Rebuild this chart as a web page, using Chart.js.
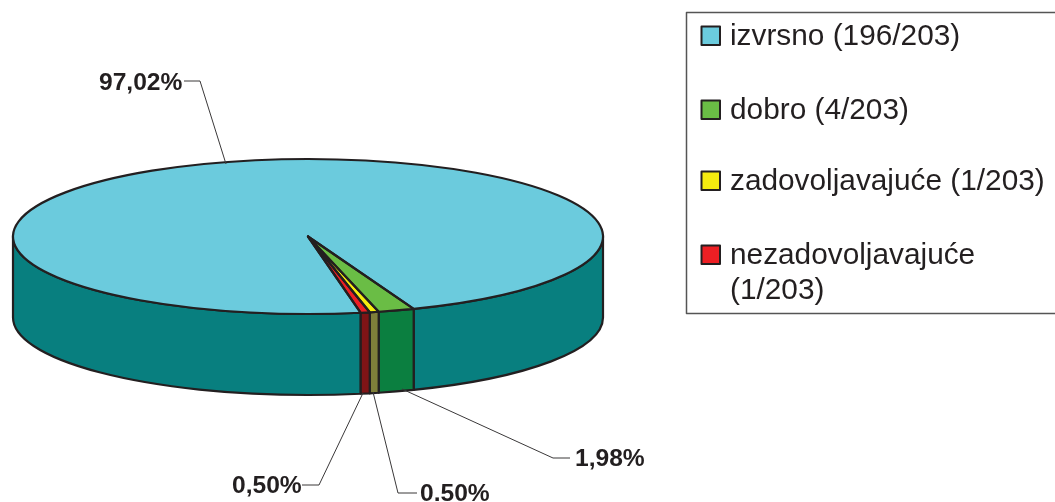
<!DOCTYPE html>
<html>
<head>
<meta charset="utf-8">
<style>html,body{margin:0;padding:0;background:#fff;overflow:hidden}canvas{display:block}</style>
<script src="https://cdn.jsdelivr.net/npm/chart.js@4"></script>
</head>
<body>
<canvas id="c" width="1055" height="502"></canvas>
<script>
const categories = ['izvrsno', 'dobro', 'zadovoljavajuće', 'nezadovoljavajuće'];
const counts = [196, 4, 1, 1];
const legendLines = [['izvrsno (196/203)'], ['dobro (4/203)'], ['zadovoljavajuće (1/203)'], ['nezadovoljavajuće', '(1/203)']];
const percentLabels = ['97,02%', '1,98%', '0.50%', '0,50%'];
const topColors = ['#6bcbdd', '#6abd45', '#f5ec0f', '#ed1f24'];
const wallColors = ['#087f7f', '#0b7f40', '#7f7f3a', '#7f1416'];

const INK = '#231f20';
const pie3d = { cx: 308, cy: 236.5, rx: 295, ry: 77.5, depth: 81, rotation: 169.7 };
const leaders = [
  { text: [99, 90],   pts: [[184, 81], [200, 81], [226, 164]] },
  { text: [575, 466], pts: [[570, 458], [553, 458], [402, 389]] },
  { text: [420, 501], pts: [[417, 493], [398, 493], [373, 392]] },
  { text: [232, 493], pts: [[302, 485], [319, 485], [363, 393]] }
];
const legendBox = { x: 686.5, y: 12.5, w: 380, h: 301 };
const legendRows = [45, 119, 190, 264];

function applyPie(ctx, arc) {
  const R = arc.outerRadius;
  ctx.translate(pie3d.cx, pie3d.cy);
  ctx.scale(pie3d.rx / R, pie3d.ry / R);
  ctx.translate(-arc.x, -arc.y);
}

const pie3dPlugin = {
  id: 'pie3d',
  beforeDatasetsDraw(chart) {
    const ctx = chart.ctx;
    const arcs = chart.getDatasetMeta(0).data;
    const k = pie3d.depth;
    arcs.forEach((arc, i) => {
      [-2, 0, 2].forEach(turn => {
        const a = Math.max(arc.startAngle + turn * Math.PI, 0);
        const b = Math.min(arc.endAngle + turn * Math.PI, Math.PI);
        if (b <= a) return;
        const R = arc.outerRadius;
        const down = k * R / pie3d.ry;
        ctx.save();
        applyPie(ctx, arc);
        ctx.beginPath();
        ctx.arc(arc.x, arc.y, R, a, b, false);
        ctx.arc(arc.x, arc.y + down, R, b, a, true);
        ctx.closePath();
        ctx.restore();
        ctx.fillStyle = wallColors[i];
        ctx.fill();
        ctx.strokeStyle = INK;
        ctx.lineWidth = 2.2;
        ctx.lineJoin = 'round';
        ctx.stroke();
      });
    });
    ctx.save();
    applyPie(ctx, arcs[0]);
  },
  afterDatasetsDraw(chart) {
    const ctx = chart.ctx;
    ctx.restore();
    const arcs = chart.getDatasetMeta(0).data;
    arcs.forEach(arc => {
      ctx.save();
      applyPie(ctx, arc);
      ctx.beginPath();
      ctx.moveTo(arc.x, arc.y);
      ctx.arc(arc.x, arc.y, arc.outerRadius, arc.startAngle, arc.endAngle, false);
      ctx.closePath();
      ctx.restore();
      ctx.strokeStyle = INK;
      ctx.lineWidth = 2.2;
      ctx.lineJoin = 'round';
      ctx.stroke();
    });

    // leader lines and percentage labels
    ctx.save();
    ctx.strokeStyle = '#3a3839';
    ctx.lineWidth = 1;
    leaders.forEach((l, i) => {
      ctx.beginPath();
      l.pts.forEach((p, j) => j ? ctx.lineTo(p[0], p[1]) : ctx.moveTo(p[0], p[1]));
      ctx.stroke();
      ctx.fillStyle = INK;
      ctx.font = 'bold 24.6px "Liberation Sans"';
      ctx.textBaseline = 'alphabetic';
      ctx.textAlign = 'left';
      ctx.fillText(percentLabels[i], l.text[0], l.text[1]);
    });

    // legend
    ctx.strokeStyle = '#555';
    ctx.lineWidth = 1.5;
    ctx.strokeRect(legendBox.x, legendBox.y, legendBox.w, legendBox.h);
    ctx.font = '29.8px "Liberation Sans"';
    legendLines.forEach((lines, i) => {
      const base = legendRows[i];
      ctx.fillStyle = topColors[i];
      ctx.fillRect(701.5, base - 18.5, 18.5, 18.5);
      ctx.strokeStyle = INK;
      ctx.lineWidth = 2;
      ctx.strokeRect(701.5, base - 18.5, 18.5, 18.5);
      ctx.fillStyle = INK;
      lines.forEach((t, j) => ctx.fillText(t, 730, base + j * 35));
    });
    ctx.restore();
  }
};

new Chart(document.getElementById('c'), {
  type: 'pie',
  data: {
    labels: categories,
    datasets: [{ data: counts, backgroundColor: topColors, borderWidth: 0, clip: false }]
  },
  options: {
    responsive: false,
    animation: false,
    rotation: pie3d.rotation,
    layout: { padding: 0 },
    plugins: { legend: { display: false }, tooltip: { enabled: false } }
  },
  plugins: [pie3dPlugin]
});
</script>
</body>
</html>
